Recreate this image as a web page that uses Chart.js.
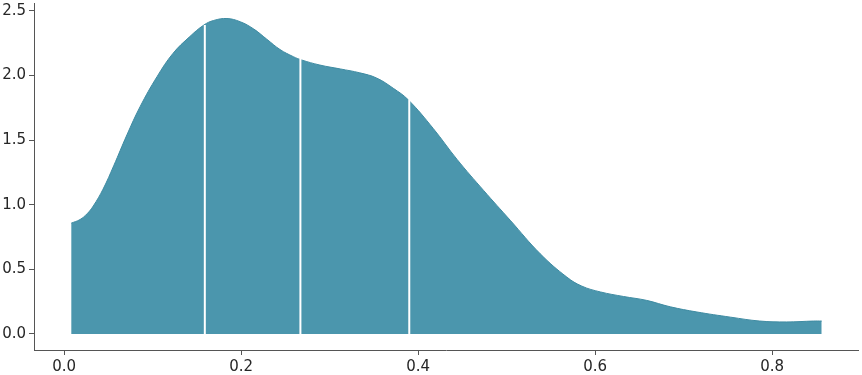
<!DOCTYPE html>
<html>
<head>
<meta charset="utf-8">
<script src="https://cdn.jsdelivr.net/npm/chart.js@4"></script>
<style>
  html, body { margin: 0; padding: 0; background: #fff; }
  #wrap { width: 862px; height: 375px; }
</style>
</head>
<body>
<div id="wrap"><canvas id="kde"></canvas></div>
<script>
// density curve
const xs = [0.008, 0.018, 0.026, 0.033, 0.044, 0.056, 0.071, 0.086, 0.105, 0.123, 0.142, 0.158,
            0.169, 0.184, 0.199, 0.214, 0.229, 0.244, 0.259, 0.268, 0.289, 0.312, 0.334,
            0.353, 0.372, 0.389, 0.417, 0.444, 0.474, 0.504, 0.538, 0.568, 0.585, 0.606,
            0.632, 0.658, 0.685, 0.715, 0.753, 0.786, 0.816, 0.847, 0.856];
const ys = [0.857, 0.885, 0.93, 0.99, 1.12, 1.30, 1.54, 1.76, 1.99, 2.17, 2.30, 2.39,
            2.425, 2.44, 2.415, 2.36, 2.28, 2.20, 2.145, 2.12, 2.08, 2.05, 2.02,
            1.98, 1.90, 1.81, 1.59, 1.35, 1.11, 0.88, 0.62, 0.44, 0.37, 0.325,
            0.29, 0.26, 0.21, 0.17, 0.13, 0.10, 0.093, 0.10, 0.10];

// quartile lines
const quartX = [0.159, 0.267, 0.39];
const quartY = [2.39, 2.13, 1.81];

const xTicks = [0.0, 0.2, 0.4, 0.6, 0.8];
const yTicks = [0.0, 0.5, 1.0, 1.5, 2.0, 2.5];

const tickFont = { family: 'DejaVu Sans', size: 15 };
const tickColor = '#262626';
const spineColor = '#555555';

const datasets = [{
    data: xs.map((x, i) => ({ x: x, y: ys[i] })),
    backgroundColor: '#4b96ad',
    borderColor: '#3f8ba2',
    borderWidth: 1,
    fill: 'origin',
    tension: 0.4,
    pointRadius: 0,
    order: 2
}];

quartX.forEach((q, i) => {
    datasets.push({
        data: [{ x: q, y: 0 }, { x: q, y: quartY[i] }],
        borderColor: '#ffffff',
        borderWidth: 2,
        fill: false,
        pointRadius: 0,
        order: 1
    });
});

new Chart(document.getElementById('kde'), {
    type: 'line',
    data: { datasets: datasets },
    options: {
        responsive: true,
        maintainAspectRatio: false,
        animation: false,
        layout: { padding: { top: 3, right: 4, left: 0, bottom: 0 } },
        plugins: { legend: { display: false }, tooltip: { enabled: false } },
        scales: {
            x: {
                type: 'linear',
                min: -0.034,
                max: 0.897,
                afterBuildTicks: s => { s.ticks = xTicks.map(v => ({ value: v })); },
                afterFit: s => { s.height = 25; s.paddingLeft = 0; s.paddingRight = 0; },
                grid: { drawOnChartArea: false, drawTicks: true, tickLength: 5, tickColor: spineColor },
                border: { display: true, color: spineColor, width: 1 },
                ticks: { font: tickFont, color: tickColor, padding: 3, maxRotation: 0,
                         callback: v => v.toFixed(1) }
            },
            y: {
                type: 'linear',
                min: -0.124,
                max: 2.56,
                afterBuildTicks: s => { s.ticks = yTicks.map(v => ({ value: v })); },
                afterFit: s => { s.width = 34; s.paddingTop = 0; s.paddingBottom = 0; },
                grid: { drawOnChartArea: false, drawTicks: true, tickLength: 5, tickColor: spineColor },
                border: { display: true, color: spineColor, width: 1 },
                ticks: { font: tickFont, color: tickColor, padding: 3,
                         callback: v => v.toFixed(1) }
            }
        }
    }
});
</script>
</body>
</html>
